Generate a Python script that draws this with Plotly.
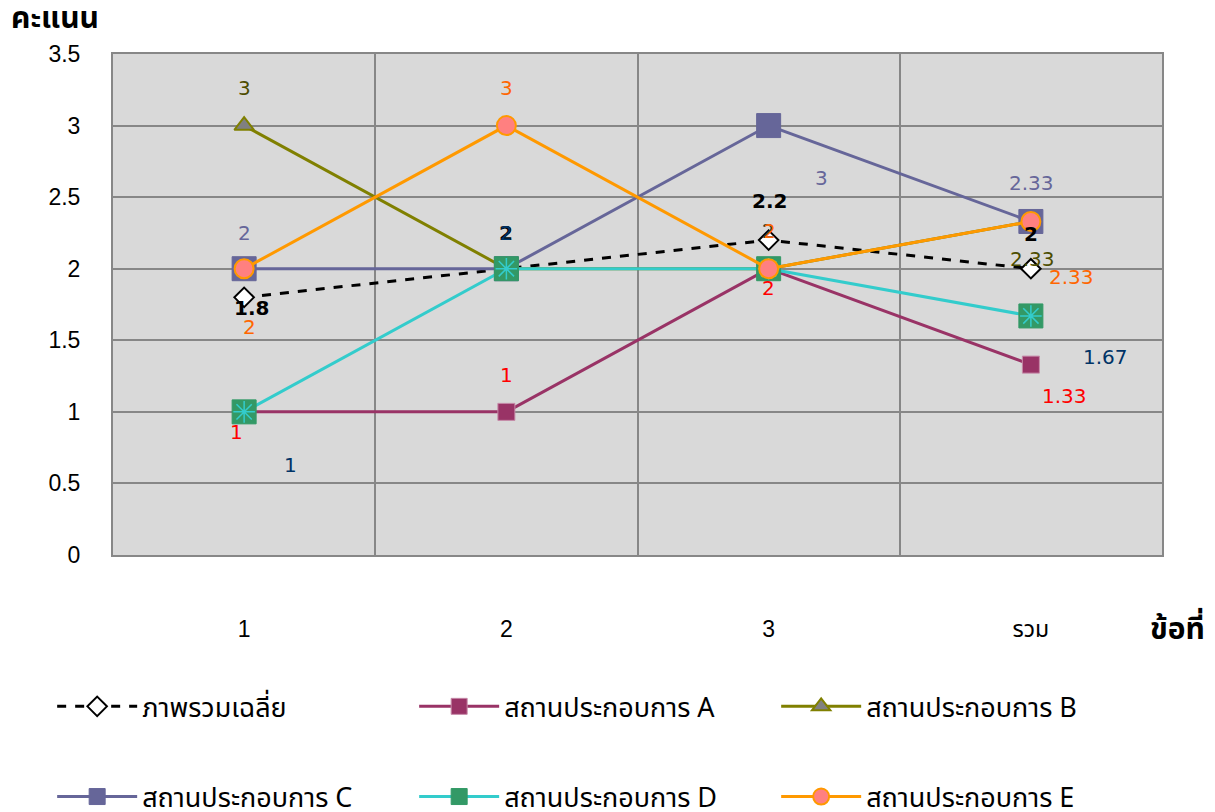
import plotly.graph_objects as go

# Items on the x axis
categories = ["1", "2", "3", "รวม"]
x_pos = [1, 2, 3, 4]

# Scores per series
overall = [1.8, 2, 2.2, 2]
op_a = [1, 1, 2, 1.33]
op_b = [3, 2, 2, 2.33]
op_c = [2, 2, 3, 2.33]
op_d = [1, 2, 2, 1.67]
op_e = [2, 3, 2, 2.33]

names = ["ภาพรวมเฉลี่ย", "สถานประกอบการ A", "สถานประกอบการ B",
         "สถานประกอบการ C", "สถานประกอบการ D", "สถานประกอบการ E"]

FONT = "DejaVu Sans"
THAI = "Noto Sans Thai, Noto Sans, sans-serif"
TICK = "Liberation Sans, Noto Sans Thai, sans-serif"

fig = go.Figure()

# Series styling
fig.add_trace(go.Scatter(
    x=x_pos, y=overall, name=names[0], mode="lines+markers", legend="legend",
    line=dict(color="black", width=3, dash="dash"),
    marker=dict(symbol="diamond", size=15, color="white", line=dict(color="black", width=2))))
fig.add_trace(go.Scatter(
    x=x_pos, y=op_a, name=names[1], mode="lines+markers", legend="legend",
    line=dict(color="#993366", width=3),
    marker=dict(symbol="square", size=17, color="#993366", line=dict(color="#c68aa8", width=1))))
fig.add_trace(go.Scatter(
    x=x_pos, y=op_b, name=names[2], mode="lines+markers", legend="legend",
    line=dict(color="#808000", width=3),
    marker=dict(symbol="triangle-up", size=17, color="#808080", line=dict(color="#808000", width=2))))
fig.add_trace(go.Scatter(
    x=x_pos, y=op_c, name=names[3], mode="lines+markers", legend="legend2",
    line=dict(color="#666699", width=3),
    marker=dict(symbol="square", size=24, color="#666699", line=dict(color="#666699", width=1))))
fig.add_trace(go.Scatter(
    x=x_pos, y=op_d, name=names[4], mode="lines+markers", legend="legend2",
    line=dict(color="#33CCCC", width=3),
    marker=dict(symbol="square", size=24, color="#339966", line=dict(color="#339966", width=1))))
# asterisk drawn over the D squares
fig.add_trace(go.Scatter(
    x=x_pos, y=op_d, mode="markers", showlegend=False, legend="legend2", hoverinfo="skip",
    marker=dict(symbol="asterisk-open", size=18, color="#33CCCC", line=dict(color="#33CCCC", width=1.5))))
fig.add_trace(go.Scatter(
    x=x_pos, y=op_e, name=names[5], mode="lines+markers", legend="legend2",
    line=dict(color="#FF9900", width=3),
    marker=dict(symbol="circle", size=19, color="#FF8080", line=dict(color="#FF9900", width=2))))

# Value labels: (series values, colour, bold, per-point pixel offsets)
label_specs = [
    (op_b, "#4D4D00", False, [(0, 38), (0, 36), (0, 38), (2, -38)]),
    (op_c, "#666699", False, [(0, 36), (0, 36), (53, -52), (1, 38)]),
    (overall, "black", True, [(7, -11), (0, 36), (1, 39), (0, 35)]),
    (op_d, "#003366", False, [(46, -53), (0, 36), (0, 38), (75, -41)]),
    (op_a, "#FF0000", False, [(-8, -20), (0, 37), (0, -19), (34, -31)]),
    (op_e, "#FF6600", False, [(5, -58), (0, 38), (1, 38), (41, -56)]),
]
for vals, color, bold, offs in label_specs:
    for xv, v, (dx, dy) in zip(x_pos, vals, offs):
        txt = f"{v:g}"
        fig.add_annotation(
            x=xv, y=v, xref="x", yref="y", text=f"<b>{txt}</b>" if bold else txt,
            showarrow=False, xshift=dx, yshift=dy,
            font=dict(family=FONT, size=20, color=color))

# Axis titles
fig.add_annotation(x=-0.099, y=1.07, xref="paper", yref="paper", text="<b>คะแนน</b>",
                   showarrow=False, xanchor="left", yanchor="middle",
                   font=dict(family=THAI, size=30, color="black"))
fig.add_annotation(x=1.043, y=-0.149, xref="paper", yref="paper", text="<b>ข้อที่</b>",
                   showarrow=False, xanchor="right", yanchor="middle",
                   font=dict(family=THAI, size=30, color="black"))

legend_style = dict(orientation="h", x=-0.058, xanchor="left", yanchor="middle",
                    entrywidth=267, entrywidthmode="pixels", itemwidth=80,
                    bgcolor="rgba(0,0,0,0)",
                    font=dict(family=THAI, size=27, color="black"))

fig.update_layout(
    width=1215, height=812,
    margin=dict(l=113, r=53, t=54, b=257, autoexpand=False),
    paper_bgcolor="white", plot_bgcolor="#D9D9D9",
    font=dict(family=FONT, size=20, color="black"),
    xaxis=dict(
        range=[0.5, 4.5], tickmode="array", tickvals=x_pos, ticktext=categories,
        showgrid=False, zeroline=False, ticks="", ticklabelstandoff=52,
        showline=True, linecolor="#878787", linewidth=2, mirror=True,
        tickfont=dict(family=TICK, size=23, color="black"),
        minor=dict(tickvals=[1.5, 2.5, 3.5], showgrid=True, gridcolor="#878787",
                   gridwidth=2, ticks=""),
    ),
    yaxis=dict(
        range=[0, 3.5], dtick=0.5, tick0=0, showgrid=True, gridcolor="#878787",
        gridwidth=2, zeroline=False, ticks="", ticklabelstandoff=26,
        showline=True, linecolor="#878787", linewidth=2, mirror=True,
        tickfont=dict(family=TICK, size=23, color="black"),
    ),
    legend=dict(y=-0.303, **legend_style),
    legend2=dict(y=-0.483, **legend_style),
    showlegend=True,
)

fig.write_html("out.html")
